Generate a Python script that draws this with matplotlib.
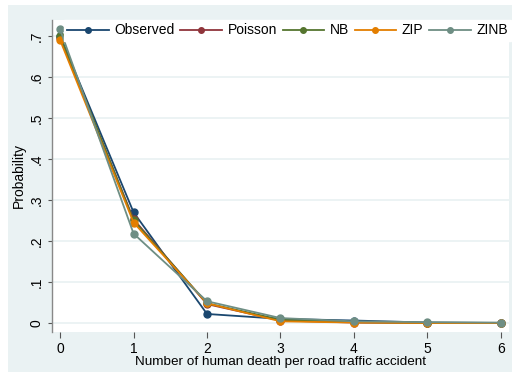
import matplotlib
matplotlib.use("Agg")
import matplotlib.pyplot as plt
from matplotlib.patches import Rectangle
from matplotlib import font_manager

deaths = [0, 1, 2, 3, 4, 5, 6]
observed = [0.700, 0.270, 0.022, 0.010, 0.006, 0.001, 0.000]
poisson = [0.695, 0.253, 0.046, 0.006, 0.001, 0.000, 0.000]
nb = [0.700, 0.250, 0.048, 0.008, 0.002, 0.000, 0.000]
zip_ = [0.690, 0.245, 0.048, 0.004, 0.001, 0.000, 0.000]
zinb = [0.716, 0.218, 0.053, 0.012, 0.004, 0.002, 0.001]

series = [("Observed", observed, "#1a476f"),
          ("Poisson", poisson, "#90353b"),
          ("NB", nb, "#55752f"),
          ("ZIP", zip_, "#e37e00"),
          ("ZINB", zinb, "#6e8e84")]

yticks = [0, 0.1, 0.2, 0.3, 0.4, 0.5, 0.6, 0.7]
ytick_labels = ["0", ".1", ".2", ".3", ".4", ".5", ".6", ".7"]

names = {f.name for f in font_manager.fontManager.ttflist}
fam = "Liberation Sans Narrow" if "Liberation Sans Narrow" in names else "Liberation Sans"
plt.rcParams['font.family'] = [fam, 'DejaVu Sans']

W, H = 515, 374
fig = plt.figure(figsize=(W / 100, H / 100), dpi=100, facecolor="white")
bg = "#eaf2f3"
fig.patches.append(Rectangle((8 / W, 1 - 372 / H), (512 - 8) / W, (372 - 5) / H,
                             transform=fig.transFigure, facecolor=bg, edgecolor="none", zorder=-10))

ax = fig.add_axes([52 / W, 1 - 332 / H, (509 - 52) / W, (332 - 20) / H])
ax.set_facecolor("white")

for name, vals, col in series:
    ax.plot(deaths, vals, color=col, lw=1.3, marker="o", ms=5, label=name)

ax.set_xlim(-0.11, 6.11)
ax.set_ylim(-0.022, 0.739)
ax.set_yticks(yticks)
ax.set_yticklabels(ytick_labels, rotation=90, va="center")
ax.set_xticks(deaths)
ax.grid(axis="y", color=bg, lw=1.3)
ax.set_axisbelow(True)

for s in ["top", "right", "bottom"]:
    ax.spines[s].set_visible(False)
ax.spines["left"].set_color("#888888")
ax.spines["left"].set_linewidth(1.0)

ax.tick_params(axis="y", length=3, width=0.8, color="#555555", pad=3, labelsize=10)
ax.tick_params(axis="x", length=4, width=0.8, color="#555555", pad=3, labelsize=10)

ax.set_xlabel("Number of human death per road traffic accident", fontsize=9.7, labelpad=0)
ax.set_ylabel("Probability", fontsize=10)
ax.yaxis.set_label_coords(-0.058, 0.5)

leg = ax.legend(loc="upper left", bbox_to_anchor=(0.026, 1.0), ncol=5, frameon=True,
                fontsize=10, handlelength=3.0, handletextpad=0.4, columnspacing=0.4,
                borderaxespad=0, borderpad=0.25, fancybox=False, markerscale=0.8)
leg.get_frame().set_edgecolor("white")
leg.get_frame().set_facecolor("white")
leg.get_frame().set_alpha(1)

fig.savefig("out.png", dpi=100, facecolor="white")
